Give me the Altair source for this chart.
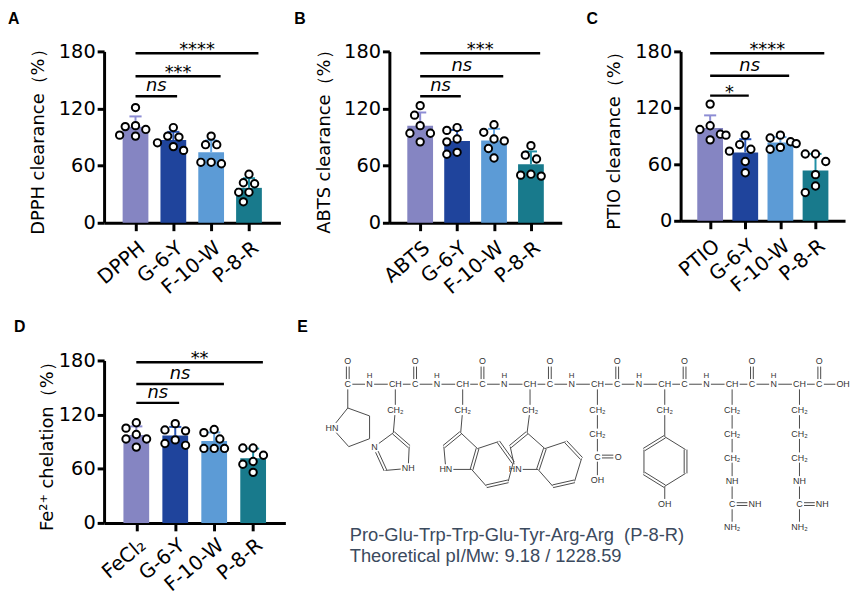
import json
import math
import numpy as np
import pandas as pd
import altair as alt

FONT = "DejaVu Sans"
SANS = "Liberation Sans"

# ------------------------------------------------------------------ data
cats_A = ["DPPH", "G-6-Y", "F-10-W", "P-8-R"]
cats_B = ["ABTS", "G-6-Y", "F-10-W", "P-8-R"]
cats_C = ["PTIO", "G-6-Y", "F-10-W", "P-8-R"]
cats_D = ["FeCl₂", "G-6-Y", "F-10-W", "P-8-R"]

dpph_ctrl = [121, 101, 98, 102, 91, 92]
dpph_g6y = [100, 90, 91, 76, 84, 80]
dpph_f10w = [91, 82, 82, 62, 63.5, 63.5]
dpph_p8r = [51, 42, 41, 32, 32, 22]

abts_ctrl = [123, 113, 102, 94, 94, 85]
abts_g6y = [100, 97, 88, 85, 74, 72]
abts_f10w = [103, 95, 88, 86, 78, 68]
abts_p8r = [81, 71, 67, 51, 50, 49]

ptio_ctrl = [124, 101, 97, 92, 91, 86]
ptio_g6y = [91, 81, 76, 74, 63, 51]
ptio_f10w = [91, 88, 84, 82, 78, 76]
ptio_p8r = [71, 71, 63, 49, 37, 30]

fe_ctrl = [111, 105, 98, 93, 93, 84]
fe_g6y = [110, 103, 102, 92, 88, 86]
fe_f10w = [103.5, 100, 93, 82.5, 82.5, 82.5]
fe_p8r = [83, 83, 75, 68, 65, 56]

sig_A = ["ns", "***", "****"]
sig_B = ["ns", "ns", "***"]
sig_C = ["*", "ns", "****"]
sig_D = ["ns", "ns", "**"]
sig_levels = [133, 154, 178]
sig_ends = [1.1, 2.25, 3.25]

y_ticks = [0, 60, 120, 180]
bar_colors = ["#8585c2", "#1f449c", "#5c9bd6", "#187a8c"]
err_colors = ["#8d8dd4", "#2a57b8", "#66a8e6", "#2290a6"]

# peptide drawing (local coordinates, px, y downward)
backbone_atoms = [
    ("c0", "C", 0, 0), ("o0", "O", 0, -23),
    ("n1", "N", 22, 0), ("h1", "H", 22, -8), ("a1", "CH", 48, 0), ("c1", "C", 68, 0), ("o1", "O", 68, -23),
    ("n2", "N", 90, 0), ("h2", "H", 90, -8), ("a2", "CH", 116, 0), ("c2", "C", 136, 0), ("o2", "O", 136, -23),
    ("n3", "N", 158, 0), ("h3", "H", 158, -8), ("a3", "CH", 184, 0), ("c3", "C", 204, 0), ("o3", "O", 204, -23),
    ("n4", "N", 226, 0), ("h4", "H", 226, -8), ("a4", "CH", 252, 0), ("c4", "C", 272, 0), ("o4", "O", 272, -23),
    ("n5", "N", 294, 0), ("h5", "H", 294, -8), ("a5", "CH", 320, 0), ("c5", "C", 340, 0), ("o5", "O", 340, -23),
    ("n6", "N", 362, 0), ("h6", "H", 362, -8), ("a6", "CH", 388, 0), ("c6", "C", 408, 0), ("o6", "O", 408, -23),
    ("n7", "N", 430, 0), ("h7", "H", 430, -8), ("a7", "CH", 456, 0), ("c7", "C", 476, 0), ("o7", "O", 476, -23),
    ("oh", "OH", 500, 0),
]
backbone_bonds = [
    ("c0", "n1", 1), ("n1", "a1", 1), ("a1", "c1", 1), ("c1", "n2", 1), ("n2", "a2", 1), ("a2", "c2", 1),
    ("c2", "n3", 1), ("n3", "a3", 1), ("a3", "c3", 1), ("c3", "n4", 1), ("n4", "a4", 1), ("a4", "c4", 1),
    ("c4", "n5", 1), ("n5", "a5", 1), ("a5", "c5", 1), ("c5", "n6", 1), ("n6", "a6", 1), ("a6", "c6", 1),
    ("c6", "n7", 1), ("n7", "a7", 1), ("a7", "c7", 1), ("c7", "oh", 1),
    ("c0", "o0", 2), ("c1", "o1", 2), ("c2", "o2", 2), ("c3", "o3", 2),
    ("c4", "o4", 2), ("c5", "o5", 2), ("c6", "o6", 2), ("c7", "o7", 2),
]
pro_atoms = [("p2", "", 0, 24), ("p3", "", 22, 32), ("p4", "", 22, 55), ("p5", "", 1, 63), ("pn", "HN", -16, 44)]
pro_bonds = [("c0", "p2", 1), ("p2", "p3", 1), ("p3", "p4", 1), ("p4", "p5", 1), ("p5", "pn", 1), ("pn", "p2", 1)]
his_atoms = [("hb", "CH₂", 48, 26), ("hc4", "", 46, 49), ("hc5", "", 62, 63), ("hn1", "NH", 61, 85),
             ("hc2", "", 38, 87), ("hn3", "N", 27, 63)]
his_bonds = [("a1", "hb", 1), ("hb", "hc4", 1), ("hc4", "hc5", 2), ("hc5", "hn1", 1), ("hn1", "hc2", 1),
             ("hc2", "hn3", 2), ("hn3", "hc4", 1)]
trp1_atoms = [("t1b", "CH₂", 116, 26), ("t1c3", "", 114, 49), ("t1c2", "", 97, 63), ("t1n", "HN", 99, 86),
              ("t1c7a", "", 125, 86), ("t1c3a", "", 131, 65), ("t1c4", "", 152, 58), ("t1c5", "", 167, 79),
              ("t1c6", "", 162, 98), ("t1c7", "", 140, 103)]
trp1_bonds = [("a2", "t1b", 1), ("t1b", "t1c3", 1), ("t1c3", "t1c2", 2), ("t1c2", "t1n", 1), ("t1n", "t1c7a", 1),
              ("t1c7a", "t1c3a", 2), ("t1c3a", "t1c3", 1), ("t1c3a", "t1c4", 1), ("t1c4", "t1c5", 2),
              ("t1c5", "t1c6", 1), ("t1c6", "t1c7", 2), ("t1c7", "t1c7a", 1)]
trp2_atoms = [("t2b", "CH₂", 184, 26), ("t2c3", "", 181, 49), ("t2c2", "", 164, 63), ("t2n", "HN", 169, 86),
              ("t2c7a", "", 192, 86), ("t2c3a", "", 199, 65), ("t2c4", "", 220, 58), ("t2c5", "", 236, 75),
              ("t2c6", "", 229, 98), ("t2c7", "", 207, 103)]
trp2_bonds = [("a3", "t2b", 1), ("t2b", "t2c3", 1), ("t2c3", "t2c2", 2), ("t2c2", "t2n", 1), ("t2n", "t2c7a", 1),
              ("t2c7a", "t2c3a", 2), ("t2c3a", "t2c3", 1), ("t2c3a", "t2c4", 1), ("t2c4", "t2c5", 2),
              ("t2c5", "t2c6", 1), ("t2c6", "t2c7", 2), ("t2c7", "t2c7a", 1)]
glu_atoms = [("g1", "CH₂", 252, 26), ("g2", "CH₂", 252, 50), ("gc", "C", 252, 73), ("go", "O", 273, 73),
             ("goh", "OH", 252, 97)]
glu_bonds = [("a4", "g1", 1), ("g1", "g2", 1), ("g2", "gc", 1), ("gc", "go", 2), ("gc", "goh", 1)]
tyr_atoms = [("y1", "CH₂", 320, 26), ("yt", "", 320, 53), ("yur", "", 341, 66), ("ylr", "", 341, 90),
             ("yb", "", 320, 103), ("yll", "", 299, 90), ("yul", "", 299, 66), ("yoh", "OH", 320, 121)]
tyr_bonds = [("a5", "y1", 1), ("y1", "yt", 1), ("yt", "yur", 1), ("yur", "ylr", 2), ("ylr", "yb", 1),
             ("yb", "yll", 2), ("yll", "yul", 1), ("yul", "yt", 2), ("yb", "yoh", 1)]
arg1_atoms = [("r1a", "CH₂", 388, 26), ("r1b", "CH₂", 388, 50), ("r1c", "CH₂", 388, 74), ("r1n", "NH", 388, 98),
              ("r1z", "C", 388, 121), ("r1i", "NH", 411, 121), ("r1m", "NH₂", 388, 144)]
arg1_bonds = [("a6", "r1a", 1), ("r1a", "r1b", 1), ("r1b", "r1c", 1), ("r1c", "r1n", 1), ("r1n", "r1z", 1),
              ("r1z", "r1i", 2), ("r1z", "r1m", 1)]
arg2_atoms = [("r2a", "CH₂", 456, 26), ("r2b", "CH₂", 456, 50), ("r2c", "CH₂", 456, 74), ("r2n", "NH", 456, 98),
              ("r2z", "C", 456, 121), ("r2i", "NH", 479, 121), ("r2m", "NH₂", 456, 144)]
arg2_bonds = [("a7", "r2a", 1), ("r2a", "r2b", 1), ("r2b", "r2c", 1), ("r2c", "r2n", 1), ("r2n", "r2z", 1),
              ("r2z", "r2i", 2), ("r2z", "r2m", 1)]

caption_lines = ["Pro-Glu-Trp-Trp-Glu-Tyr-Arg-Arg\u00a0 (P-8-R)", "Theoretical pI/Mw: 9.18 / 1228.59"]
caption_y = [158, 179]


# ------------------------------------------------------------------ helpers
def swarm(vals, px_y, diam=10.5):
    order = sorted(range(len(vals)), key=lambda k: -vals[k])
    cands = [0, -6, 6, -11, 11, -3, 3, -9, 9, -14, 14, -17, 17]
    placed, offs = [], [0.0] * len(vals)
    for k in order:
        y = vals[k] * px_y
        chosen = cands[-1]
        for c in cands:
            if all((c - px) ** 2 + (y - py) ** 2 >= diam ** 2 for px, py in placed):
                chosen = c
                break
        placed.append((chosen, y))
        offs[k] = chosen
    return offs


def panel(letter, cats, groups, sig, ytitle, width, height, label_dx, label_dy, title_x, xpad):
    px_x = width / 4.4
    px_y = height / 180.0
    pts, bars = [], []
    for i, vals in enumerate(groups):
        offs = swarm(vals, px_y)
        for v, o in zip(vals, offs):
            pts.append({"xj": i + o / px_x, "value": v})
        m = float(np.mean(vals))
        sd = float(np.std(vals, ddof=1))
        bars.append({"pos": i, "cat": cats[i], "mean": m, "top": m + sd,
                     "c1": i - 6.5 / px_x, "c2": i + 6.5 / px_x,
                     "fill": bar_colors[i], "efill": err_colors[i]})
    df_pts = pd.DataFrame(pts)
    df_bar = pd.DataFrame(bars)
    df_sig = pd.DataFrame({"y": sig_levels, "x1": [0, 0, 0], "x2": sig_ends,
                           "xm": [e / 2 for e in sig_ends], "t": sig})

    xs = alt.Scale(domain=[-0.7, 3.7], nice=False, zero=False)
    ys = alt.Scale(domain=[0, 180], nice=False)
    label_expr = json.dumps(cats) + "[datum.value]"
    xaxis = alt.Axis(values=[0, 1, 2, 3], labelExpr=label_expr, labelAngle=-40, labelFontSize=20,
                     labelFont=FONT, labelColor="black", labelAlign="right", labelBaseline="top",
                     domainWidth=3, domainColor="black", tickWidth=3, tickColor="black", tickSize=8,
                     grid=False, title=None, labelPadding=xpad, labelOverlap=False, labelFlush=False)
    yaxis = alt.Axis(values=y_ticks, title=ytitle, titleFont=FONT, titleFontSize=18,
                     titleFontWeight="normal", titleColor="black", titleX=title_x, titleY=height / 2,
                     titleAngle=-90, titleAlign="center", titleBaseline="middle",
                     labelFontSize=19.5, labelFont=FONT, labelColor="black", domainWidth=3,
                     domainColor="black", tickWidth=3, tickColor="black", tickSize=7, grid=False,
                     labelPadding=2)

    base_bar = alt.Chart(df_bar)
    bars_l = base_bar.mark_bar(size=26).encode(
        x=alt.X("pos:Q", scale=xs, axis=xaxis),
        y=alt.Y("mean:Q", scale=ys, axis=yaxis),
        color=alt.Color("fill:N", scale=None),
    )
    err_l = base_bar.mark_rule(strokeWidth=2).encode(
        x=alt.X("pos:Q", scale=xs),
        y=alt.Y("mean:Q", scale=ys), y2="top:Q",
        color=alt.Color("efill:N", scale=None),
    )
    cap_l = base_bar.mark_rule(strokeWidth=2).encode(
        x=alt.X("c1:Q", scale=xs), x2="c2:Q",
        y=alt.Y("top:Q", scale=ys),
        color=alt.Color("efill:N", scale=None),
    )
    pts_l = alt.Chart(df_pts).mark_point(shape="circle", filled=True, fill="white", stroke="black",
                                         strokeWidth=2, size=55, opacity=1).encode(
        x=alt.X("xj:Q", scale=xs),
        y=alt.Y("value:Q", scale=ys),
    )
    base_sig = alt.Chart(df_sig)
    sig_l = base_sig.mark_rule(strokeWidth=2.5, color="black").encode(
        x=alt.X("x1:Q", scale=xs), x2="x2:Q",
        y=alt.Y("y:Q", scale=ys),
    )
    ns_l = base_sig.transform_filter("datum.t == 'ns'").mark_text(
        font=FONT, fontSize=18, fontStyle="italic", baseline="alphabetic", dy=-5, color="black"
    ).encode(x=alt.X("xm:Q", scale=xs), y=alt.Y("y:Q", scale=ys), text="t:N")
    star_l = base_sig.transform_filter("datum.t != 'ns'").mark_text(
        font=FONT, fontSize=18, baseline="alphabetic", dy=2, color="black"
    ).encode(x=alt.X("xm:Q", scale=xs), y=alt.Y("y:Q", scale=ys), text="t:N")
    lab_l = alt.Chart(pd.DataFrame({"t": [letter]})).mark_text(
        font=SANS, fontSize=16, fontWeight="bold", align="left", baseline="top", color="black"
    ).encode(x=alt.value(label_dx), y=alt.value(label_dy), text="t:N")

    return alt.layer(bars_l, err_l, cap_l, pts_l, sig_l, ns_l, star_l, lab_l).properties(
        width=width, height=height)


def label_box(label):
    if label == "":
        return 0.0, 0.0
    widths = {"C": 3.6, "N": 3.6, "O": 3.9, "H": 3.2, "CH": 6.6, "OH": 6.8, "NH": 6.6, "HN": 6.6,
              "CH₂": 8.0, "NH₂": 8.2}
    return widths.get(label, 6.0), 4.2


def molecule_panel(width, height, x0, y0, label_dy):
    atoms = (backbone_atoms + pro_atoms + his_atoms + trp1_atoms + trp2_atoms + glu_atoms + tyr_atoms
             + arg1_atoms + arg2_atoms)
    bonds = (backbone_bonds + pro_bonds + his_bonds + trp1_bonds + trp2_bonds + glu_bonds + tyr_bonds
             + arg1_bonds + arg2_bonds)
    amap = {a[0]: a for a in atoms}
    segs = []
    for a, b, order in bonds:
        _, la, xa, ya = amap[a]
        _, lb, xb, yb = amap[b]
        dx, dy = xb - xa, yb - ya
        L = math.hypot(dx, dy)
        ux, uy = dx / L, dy / L

        def shrink(lbl):
            hw, hh = label_box(lbl)
            if hw == 0:
                return 0.0
            tx = hw / abs(ux) if abs(ux) > 1e-6 else 1e9
            ty = hh / abs(uy) if abs(uy) > 1e-6 else 1e9
            return min(tx, ty) + 1.0

        sa, sb = shrink(la), shrink(lb)
        x1, y1 = xa + ux * sa, ya + uy * sa
        x2, y2 = xb - ux * sb, yb - uy * sb
        if order == 1:
            segs.append((x1, y1, x2, y2))
        else:
            nx, ny = -uy * 1.4, ux * 1.4
            segs.append((x1 + nx, y1 + ny, x2 + nx, y2 + ny))
            segs.append((x1 - nx, y1 - ny, x2 - nx, y2 - ny))
    df_seg = pd.DataFrame(segs, columns=["x1", "y1", "x2", "y2"])
    df_atoms = pd.DataFrame([{"x": x, "y": y, "t": l} for _, l, x, y in atoms if l not in ("", "H")])
    df_h = pd.DataFrame([{"x": x, "y": y, "t": l} for _, l, x, y in atoms if l == "H"])
    df_cap = pd.DataFrame({"x": [2, 2], "y": caption_y, "t": caption_lines})

    xs = alt.Scale(domain=[x0, x0 + width], nice=False, zero=False)
    ys = alt.Scale(domain=[y0, y0 + height], nice=False, zero=False, reverse=True)

    seg_l = alt.Chart(df_seg).mark_rule(strokeWidth=1, color="#4a4a4a").encode(
        x=alt.X("x1:Q", scale=xs, axis=None), x2="x2:Q",
        y=alt.Y("y1:Q", scale=ys, axis=None), y2="y2:Q",
    )
    atom_l = alt.Chart(df_atoms).mark_text(font=SANS, fontSize=9, color="#333333", baseline="middle").encode(
        x=alt.X("x:Q", scale=xs, axis=None), y=alt.Y("y:Q", scale=ys, axis=None), text="t:N")
    h_l = alt.Chart(df_h).mark_text(font=SANS, fontSize=8, color="#333333", baseline="middle").encode(
        x=alt.X("x:Q", scale=xs, axis=None), y=alt.Y("y:Q", scale=ys, axis=None), text="t:N")
    cap_l = alt.Chart(df_cap).mark_text(font=SANS, fontSize=18.5, color="#3b4a5e", align="left",
                                        baseline="alphabetic").encode(
        x=alt.X("x:Q", scale=xs, axis=None), y=alt.Y("y:Q", scale=ys, axis=None), text="t:N")
    lab_l = alt.Chart(pd.DataFrame({"t": ["E"]})).mark_text(
        font=SANS, fontSize=16, fontWeight="bold", align="left", baseline="top", color="black"
    ).encode(x=alt.value(0), y=alt.value(label_dy), text="t:N")
    return alt.layer(seg_l, atom_l, h_l, cap_l, lab_l).properties(width=width, height=height)


# ------------------------------------------------------------------ panels
pA = panel("A", cats_A, [dpph_ctrl, dpph_g6y, dpph_f10w, dpph_p8r], sig_A, "DPPH clearance（%）",
           178, 173, -97, -41, -66, 7)
pB = panel("B", cats_B, [abts_ctrl, abts_g6y, abts_f10w, abts_p8r], sig_B, "ABTS clearance（%）",
           174, 173, -96, -41, -65, 7)
pC = panel("C", cats_C, [ptio_ctrl, ptio_g6y, ptio_f10w, ptio_p8r], sig_C, "PTIO clearance（%）",
           166, 171, -95, -41, -67, 7)
pD = panel("D", cats_D, [fe_ctrl, fe_g6y, fe_f10w, fe_p8r], sig_D, "Fe²⁺ chelation（%）",
           183, 164, -91, -42, -57, 4)
pE = molecule_panel(556, 164, -51, -24, -42)

row1 = alt.hconcat(alt.hconcat(pA, pB, spacing=14), pC, spacing=25)
row2 = alt.hconcat(pD, pE, spacing=12)
chart = alt.vconcat(row1, row2, spacing=21).properties(padding=0).configure_view(strokeWidth=0)

chart.save("out.html", embed_options={"renderer": "svg", "actions": False})
